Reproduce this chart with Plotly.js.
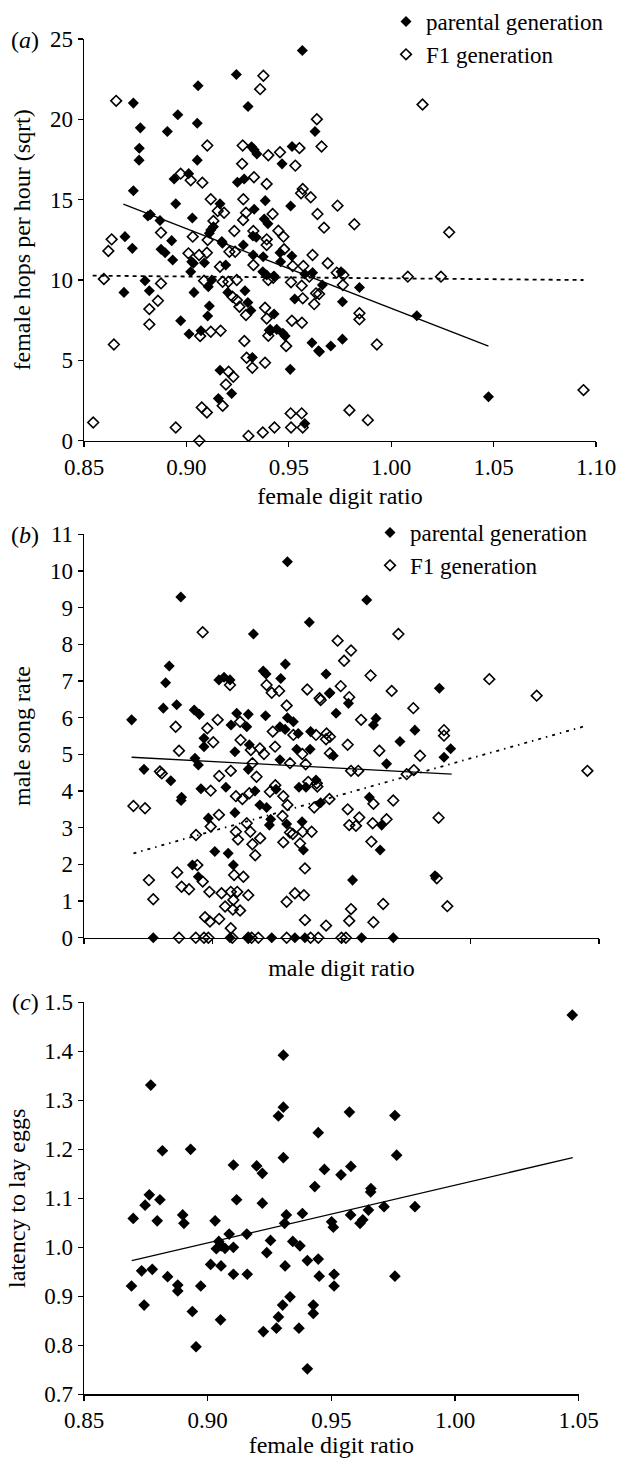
<!DOCTYPE html>
<html>
<head>
<meta charset="utf-8">
<script src="https://cdn.plot.ly/plotly-3.0.1.min.js"></script>
<style>html,body{margin:0;padding:0;background:#fff;}#chart{width:619px;height:1458px;}</style>
</head>
<body>
<div id="chart"></div>
<script>
// ---------- Panel (a): female hops per hour (sqrt) vs female digit ratio ----------
const aParX = [0.9566,0.9244,0.9057,0.8741,0.9301,0.8958,0.9053,0.8775,0.8907,0.9628,0.8770,0.8769,0.9053,0.9318,0.9331,0.9344,0.9516,0.9467,0.8741,0.8940,0.9011,0.9249,0.9282,0.9385,0.9331,0.9509,0.8948,0.9164,0.8824,0.8812,0.8871,0.9029,0.9132,0.9119,0.9380,0.9398,0.9325,0.9341,0.8700,0.8928,0.9173,0.9278,
  0.8695,0.8736,0.8798,0.8819,0.8876,0.8896,0.8933,0.8972,0.9013,0.9071,0.9037,0.9026,0.9034,0.9021,0.9088,0.9112,0.9124,0.9107,0.9112,0.9104,0.9164,0.9156,0.9221,0.9176,0.9192,0.9202,0.9286,0.9300,0.9315,0.9322,0.9326,0.9375,0.9428,0.9373,0.9392,0.9428,0.9409,0.9441,0.9471,0.9482,0.9457,0.9460,0.9507,0.9515,0.9529,0.9578,0.9578,0.9616,0.9613,0.9645,
  0.9755,0.9664,0.9845,0.9762,1.0125,0.9650,0.9705,0.9762,1.0475];
const aParY = [24.29,22.79,22.09,21.01,20.80,20.28,19.76,19.47,19.24,19.24,18.20,17.46,17.46,18.30,18.10,17.85,18.31,17.23,15.56,16.29,16.62,16.09,16.29,14.94,14.40,14.61,14.75,14.74,14.08,13.99,13.70,13.86,13.32,13.12,13.80,13.50,12.74,12.66,12.70,12.45,12.39,12.18,
  9.23,11.97,9.96,9.33,11.91,11.70,11.25,7.47,6.64,6.84,9.23,11.14,11.04,10.52,11.08,12.91,10.00,9.58,8.38,7.76,4.39,2.63,2.94,12.29,10.93,9.23,9.33,8.60,8.10,5.18,11.56,11.45,7.88,10.52,10.31,10.25,6.84,6.93,6.68,6.51,11.70,11.14,4.44,11.49,8.82,1.07,10.37,10.46,6.10,5.60,
  10.52,9.69,9.54,8.65,7.78,5.53,5.89,6.32,2.73];
const aF1X = [0.8657,0.9376,0.9360,0.9637,0.9660,0.9102,0.9275,0.9272,0.9400,0.9457,0.9552,0.9532,0.8972,0.9021,0.9078,0.9330,0.9392,0.9568,0.9560,0.9607,0.9119,0.9278,0.9153,0.9184,0.9291,0.9421,0.9640,0.9277,0.9132,0.9234,0.9327,0.9449,0.9474,0.8876,0.9031,0.9104,0.8635,0.9392,1.0153,0.9738,0.9672,0.9820,1.0283,
  0.8545,0.8597,0.8646,0.8619,0.8819,0.8861,0.8876,0.8819,0.8948,0.9010,0.9062,0.9100,0.9067,0.9119,0.9167,0.9086,0.9063,0.9075,0.9100,0.9177,0.9193,0.9206,0.9229,0.9177,0.9205,0.9246,0.9164,0.9210,0.9238,0.9225,0.9246,0.9259,0.9291,0.9283,0.9294,0.9322,0.9303,0.9327,0.9384,0.9392,0.9384,0.9373,0.9430,0.9400,0.9424,0.9400,0.9409,0.9392,0.9487,0.9477,0.9515,0.9564,0.9511,0.9563,0.9509,0.9563,0.9511,0.9568,0.9519,0.9571,0.9616,0.9568,0.9624,0.9633,0.9600,
  0.9690,0.9734,0.9767,0.9764,1.0081,1.0243,0.9648,0.9845,0.9845,0.9930,0.9796,0.9886,1.0939];
const aF1Y = [21.15,22.71,21.88,20.01,18.31,18.37,18.37,17.23,17.77,17.95,18.21,17.12,16.62,16.21,16.06,16.40,15.98,15.67,15.40,15.15,15.03,15.03,14.30,14.19,14.19,14.11,14.11,13.74,13.68,13.05,13.05,13.07,12.70,12.95,12.70,12.49,12.53,12.53,20.92,14.63,13.26,13.47,12.97,
  1.13,10.06,5.99,11.81,8.19,8.71,9.79,7.24,0.82,11.66,11.56,11.70,6.51,6.78,6.84,9.96,0.00,2.07,1.76,2.17,3.50,4.29,3.98,9.89,9.89,10.00,10.83,11.76,11.76,8.96,8.75,8.34,7.82,6.20,5.16,4.54,0.30,10.93,8.27,7.61,4.85,0.51,0.82,10.00,10.14,6.53,6.88,12.18,5.89,11.91,7.47,7.34,9.86,9.65,1.70,1.70,0.82,0.82,10.87,10.87,11.56,8.86,8.50,9.17,10.21,
  11.04,10.46,10.31,9.69,10.21,10.21,9.13,7.93,7.55,5.99,1.90,1.28,3.15];
const aParTrendX = [0.8692, 1.0475];
const aParTrendY = [14.72, 5.89];
const aF1TrendX = [0.8542, 1.0939];
const aF1TrendY = [10.27, 10.00];
const aXTicks = [0.85, 0.90, 0.95, 1.00, 1.05, 1.10];
const aYTicks = [0, 5, 10, 15, 20, 25];

// ---------- Panel (b): male song rate vs male digit ratio ----------
const bParX = [0.9290,0.8876,0.9375,0.9158,0.8831,0.8817,0.9282,0.9196,0.9207,0.9024,0.9044,0.9067,0.9264,0.9598,0.9440,0.9455,0.9880,0.8685,0.8808,0.8860,0.8928,0.8948,0.9093,0.9138,0.9205,0.9071,0.9132,0.9290,0.9313,0.9261,0.9281,0.9332,0.9380,0.8966,0.8966,0.9142,0.9086,0.9326,0.9378,0.9261,0.8931,0.8944,0.9138,0.8733,0.8837,0.8879,0.8877,0.8954,0.9051,0.9164,0.9246,0.9335,0.9362,0.9401,0.9183,0.9209,0.9086,0.8983,0.9225,0.9220,0.9287,0.9347,0.9352,0.9008,0.9060,0.8921,0.9080,0.8944,
  0.9453,0.9527,0.9479,0.9634,0.9624,0.9785,0.9727,0.9468,0.9924,0.9898,0.9675,0.9419,0.9608,0.9656,0.9650,0.9543,0.9863,
  0.8769,0.9067,0.9138,0.9229,0.9319,0.9358,0.9578,0.9701];
const bParY = [10.25,9.29,8.60,8.28,7.41,6.95,7.46,7.27,7.19,7.03,7.10,7.03,7.07,9.21,7.19,6.68,6.80,5.94,6.26,6.35,6.21,6.09,6.12,6.09,6.05,5.80,5.75,6.00,5.89,5.75,5.68,5.57,5.62,5.44,5.21,5.26,5.07,5.14,5.14,4.85,4.89,4.71,4.59,4.59,4.28,3.83,3.74,4.06,4.10,4.00,4.05,4.10,4.10,4.30,3.62,3.55,3.41,3.26,3.23,3.07,3.10,3.16,2.39,2.35,2.30,1.98,1.98,1.66,
  6.66,6.39,6.12,5.98,5.80,5.66,5.35,4.96,5.15,4.92,4.74,3.68,3.83,3.07,2.39,1.57,1.69,
  0,0,0,0,0,0,0,0];
const bF1X = [0.8961,0.9067,0.9209,0.9229,0.9258,0.9367,0.9721,0.9485,0.9537,0.9510,0.9613,0.9497,0.9695,1.0074,1.0258,0.8692,0.8737,0.8856,0.8869,0.8795,0.8802,0.8752,0.8769,0.8862,0.8879,0.8908,0.8940,0.8961,0.8987,0.8935,0.8992,0.8992,0.9024,0.8979,0.9019,0.9002,0.9025,0.9070,0.9090,0.9115,0.9090,0.9098,0.9132,0.9146,0.9154,0.9165,0.9184,0.9142,0.9154,0.9170,0.9108,0.9106,0.9148,0.9183,0.9199,0.9242,0.9233,0.9222,0.9243,0.9274,0.9290,0.9271,0.9274,0.9300,0.9311,0.9339,0.9384,0.9358,0.9287,0.9300,0.9361,0.9313,0.9348,0.9394,0.9401,0.9404,0.9415,0.9287,0.9319,0.9354,0.9358,0.9034,0.9070,0.9095,0.9083,0.9119,0.9138,0.9080,0.9048,0.9078,0.9106,0.8970,0.8989,0.9025,0.9070,
  0.9419,0.9530,0.9779,0.9576,0.9442,0.9455,0.9440,0.9898,0.9898,0.9524,0.9647,0.9805,0.9455,0.9537,0.9565,0.9753,0.9781,0.9371,0.9406,0.9453,0.9624,0.9701,0.9524,0.9569,0.9530,0.9556,0.9621,0.9675,0.9349,0.9616,0.9877,1.0455,0.9537,0.9662,0.9911,0.9440,0.9530,0.9624,0.9870,
  0.8869,0.8934,0.8966,0.8983,0.9076,0.9138,0.9151,0.9177,0.9287,0.9380,0.9410,0.9500,0.9517];
const bF1Y = [8.33,6.89,6.89,6.68,6.73,6.77,8.28,8.10,7.83,7.55,7.15,6.86,6.73,7.05,6.60,3.59,3.53,5.75,5.10,4.53,4.48,1.57,1.05,1.78,1.39,1.32,1.98,1.53,1.25,2.80,3.03,4.01,3.35,5.71,5.94,5.33,4.41,4.55,3.86,3.78,2.89,2.68,3.12,2.89,2.55,2.25,2.71,3.94,4.76,4.39,5.39,5.89,5.12,5.16,5.01,5.21,5.62,3.98,4.16,3.86,3.62,3.32,2.60,2.87,2.83,2.57,2.89,1.89,6.33,4.76,4.73,5.53,5.01,3.55,5.53,4.21,6.53,0.98,1.21,1.16,0.48,1.21,1.25,1.25,1.71,1.66,1.16,1.03,0.85,0.77,0.74,0.56,0.44,0.51,0.26,
  6.48,6.56,6.26,5.94,5.57,5.48,5.41,5.66,5.51,5.26,5.10,4.96,5.03,4.55,4.55,4.46,4.57,4.25,4.12,3.78,3.65,3.74,3.50,3.28,3.07,3.05,3.12,3.23,2.89,2.62,3.27,4.55,0.78,0.92,0.86,0.33,0.46,0.42,1.62,
  0,0,0,0,0,0,0,0,0,0,0,0,0];
const bParTrendX = [0.8685, 0.9928];
const bParTrendY = [4.92, 4.46];
const bF1TrendX = [0.8692, 1.0446];
const bF1TrendY = [2.30, 5.77];
const bXTicks = [0.85, 0.90, 0.95, 1.00, 1.05];
const bYTicks = [0,1,2,3,4,5,6,7,8,9,10,11];

// ---------- Panel (c): latency to lay eggs vs female digit ratio ----------
const cX = [0.9306,0.8770,0.9306,0.9286,0.8817,0.8931,0.9447,0.9306,0.9104,0.9198,0.9221,0.9433,1.0474,0.9573,0.9757,0.9764,0.9472,0.9579,0.9539,0.9660,0.9403,0.8953,0.9225,0.9278,0.9369,0.9052,0.9286,0.8938,0.9303,0.9333,0.9427,0.9427,0.8743,0.8692,0.8879,0.8879,0.8972,0.8838,0.8733,0.8776,0.9012,0.9054,0.9104,0.9160,0.9313,0.9403,0.9447,0.9451,0.9035,0.9045,0.9055,0.9070,0.9104,0.9239,0.9254,0.9344,0.9373,0.9087,0.9158,0.9030,0.9311,0.9318,0.9383,0.8699,0.8796,0.8899,0.8904,0.8747,0.8764,0.8807,0.9117,0.9221,0.9659,0.9838,0.9713,0.9650,0.9578,0.9627,0.9616,0.9501,0.9508,0.9511,0.9511,0.9757];
const cY = [1.392,1.331,1.286,1.268,1.197,1.200,1.234,1.183,1.168,1.166,1.151,1.124,1.474,1.276,1.269,1.188,1.159,1.165,1.148,1.120,0.752,0.797,0.828,0.835,0.835,0.852,0.858,0.869,0.882,0.899,0.882,0.865,0.882,0.921,0.923,0.911,0.921,0.940,0.952,0.955,0.965,0.962,0.945,0.945,0.962,0.973,0.976,0.941,0.997,1.012,1.003,0.998,1.000,0.989,1.014,1.012,1.003,1.027,1.027,1.054,1.049,1.066,1.069,1.059,1.054,1.066,1.049,1.086,1.107,1.097,1.097,1.090,1.113,1.083,1.083,1.076,1.066,1.056,1.049,1.052,1.041,0.945,0.921,0.941];
const cTrendX = [0.8693, 1.0476];
const cTrendY = [0.9726, 1.183];
const cXTicks = [0.85, 0.90, 0.95, 1.00, 1.05];
const cYTicks = [0.7,0.8,0.9,1.0,1.1,1.2,1.3,1.4,1.5];

// ---------- styling ----------
const F = 'Liberation Serif, Times New Roman, serif';
const W = 619, H = 1458;
const px = v => v / W;
const py = v => 1 - v / H;

const filled = {symbol: 'diamond', size: 8.5, color: '#000', line: {width: 0}};
const open = {symbol: 'diamond-open', size: 8.2, color: '#000', line: {width: 1.6, color: '#000'}};

function axisBase(extra) {
  return Object.assign({
    showline: true, linecolor: '#000', linewidth: 1.3,
    ticks: 'outside', ticklen: 5, tickwidth: 1.3, tickcolor: '#000',
    showgrid: false, zeroline: false, automargin: false, fixedrange: true,
    tickfont: {family: F, size: 23, color: '#000'}
  }, extra);
}

const traces = [
  {x: aParX, y: aParY, type: 'scatter', mode: 'markers', name: 'parental generation', marker: filled, xaxis: 'x', yaxis: 'y', cliponaxis: false, legend: 'legend'},
  {x: aF1X, y: aF1Y, type: 'scatter', mode: 'markers', name: 'F1 generation', marker: open, xaxis: 'x', yaxis: 'y', cliponaxis: false, legend: 'legend'},
  {x: aParTrendX, y: aParTrendY, type: 'scatter', mode: 'lines', line: {color: '#000', width: 1.3}, xaxis: 'x', yaxis: 'y', showlegend: false},
  {x: aF1TrendX, y: aF1TrendY, type: 'scatter', mode: 'lines', line: {color: '#000', width: 1.8, dash: '4px,4px'}, xaxis: 'x', yaxis: 'y', showlegend: false},

  {x: bParX, y: bParY, type: 'scatter', mode: 'markers', name: 'parental generation', marker: filled, xaxis: 'x2', yaxis: 'y2', cliponaxis: false, legend: 'legend2'},
  {x: bF1X, y: bF1Y, type: 'scatter', mode: 'markers', name: 'F1 generation', marker: open, xaxis: 'x2', yaxis: 'y2', cliponaxis: false, legend: 'legend2'},
  {x: bParTrendX, y: bParTrendY, type: 'scatter', mode: 'lines', line: {color: '#000', width: 1.3}, xaxis: 'x2', yaxis: 'y2', showlegend: false},
  {x: bF1TrendX, y: bF1TrendY, type: 'scatter', mode: 'lines', line: {color: '#000', width: 1.8, dash: '3px,5px,1.5px,5px'}, xaxis: 'x2', yaxis: 'y2', showlegend: false},

  {x: cX, y: cY, type: 'scatter', mode: 'markers', marker: Object.assign({}, filled, {size: 9}), xaxis: 'x3', yaxis: 'y3', cliponaxis: false, showlegend: false},
  {x: cTrendX, y: cTrendY, type: 'scatter', mode: 'lines', line: {color: '#000', width: 1.3}, xaxis: 'x3', yaxis: 'y3', showlegend: false}
];

const titleFont = {family: F, size: 24, color: '#000'};
const legendCommon = {xanchor: 'left', yanchor: 'top', font: {family: F, size: 23, color: '#000'}, bgcolor: 'rgba(0,0,0,0)', borderwidth: 0, itemwidth: 30, traceorder: 'normal', itemclick: false, itemdoubleclick: false};

const layout = {
  width: W, height: H,
  margin: {l: 0, r: 0, t: 0, b: 0, pad: 0},
  paper_bgcolor: '#fff', plot_bgcolor: '#fff',
  font: {family: F, color: '#000'},
  xaxis: axisBase({domain: [px(84), px(596)], range: [0.85, 1.10], tickvals: aXTicks, tickformat: '.2f', anchor: 'y',
    title: {text: 'female digit ratio', font: titleFont, standoff: 8}}),
  yaxis: axisBase({domain: [py(440.7), py(39)], range: [0, 25], tickvals: aYTicks, anchor: 'x',
    title: {text: 'female hops per hour (sqrt)', font: titleFont, standoff: 12}}),
  xaxis2: axisBase({domain: [px(84), px(599)], range: [0.85, 1.05], tickvals: bXTicks, showticklabels: false, anchor: 'y2',
    title: {text: 'male digit ratio', font: titleFont, standoff: 16}}),
  yaxis2: axisBase({domain: [py(937.7), py(534.3)], range: [0, 11], tickvals: bYTicks, anchor: 'x2',
    title: {text: 'male song rate', font: titleFont, standoff: 12}}),
  xaxis3: axisBase({domain: [px(84), px(578.7)], range: [0.85, 1.05], tickvals: cXTicks, tickformat: '.2f', anchor: 'y3',
    title: {text: 'female digit ratio', font: titleFont, standoff: 8}}),
  yaxis3: axisBase({domain: [py(1394.3), py(1002.3)], range: [0.7, 1.5], tickvals: cYTicks, tickformat: '.1f', anchor: 'x3',
    title: {text: 'latency to lay eggs', font: titleFont, standoff: 12}}),
  legend: Object.assign({x: px(386), y: py(0)}, legendCommon),
  legend2: Object.assign({x: px(370), y: py(511)}, legendCommon),
  showlegend: true,
  annotations: [
    {text: '(<i>a</i>)', x: px(25), y: py(40), xref: 'paper', yref: 'paper', xanchor: 'center', yanchor: 'middle', showarrow: false, font: titleFont},
    {text: '(<i>b</i>)', x: px(25), y: py(535), xref: 'paper', yref: 'paper', xanchor: 'center', yanchor: 'middle', showarrow: false, font: titleFont},
    {text: '(<i>c</i>)', x: px(25), y: py(1002), xref: 'paper', yref: 'paper', xanchor: 'center', yanchor: 'middle', showarrow: false, font: titleFont}
  ]
};

Plotly.newPlot('chart', traces, layout, {displayModeBar: false, staticPlot: true});
</script>
</body>
</html>
